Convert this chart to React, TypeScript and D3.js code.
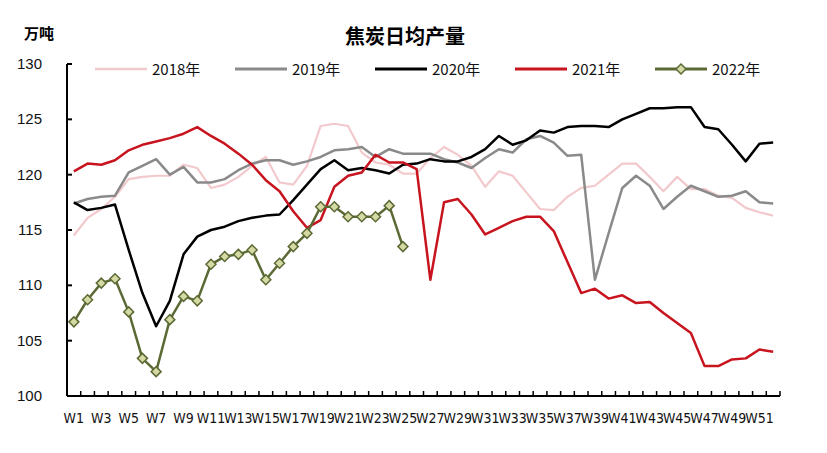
import React from "react";
import * as d3 from "d3";

const weeks = d3.range(1, 53).map((i) => `W${i}`);

const s2018 = [114.5,116.1,116.9,118.0,119.6,119.8,119.9,119.9,120.9,120.6,118.8,119.1,119.8,120.8,121.6,119.3,119.1,120.8,124.4,124.6,124.4,122.0,121.1,120.9,120.1,120.1,121.5,122.5,121.8,120.8,118.9,120.3,119.9,118.4,116.9,116.8,118.0,118.8,119.0,120.0,121.0,121.0,119.8,118.5,119.8,118.7,118.7,118.1,117.9,117.0,116.6,116.3];
const s2019 = [117.4,117.8,118.0,118.1,120.2,120.8,121.4,120.0,120.7,119.3,119.3,119.6,120.4,121.0,121.3,121.3,120.9,121.2,121.6,122.2,122.3,122.5,121.6,122.3,121.9,121.9,121.9,121.4,121.1,120.6,121.5,122.3,122.0,123.2,123.5,122.9,121.7,121.8,110.5,114.7,118.8,119.9,119.0,116.9,118.0,119.0,118.5,118.0,118.1,118.5,117.5,117.4];
const s2020 = [117.5,116.8,117.0,117.3,113.2,109.3,106.3,108.6,112.8,114.4,115.0,115.3,115.8,116.1,116.3,116.4,117.7,119.1,120.5,121.3,120.4,120.6,120.4,120.1,120.9,121.0,121.4,121.2,121.2,121.6,122.3,123.5,122.7,123.1,124.0,123.8,124.3,124.4,124.4,124.3,125.0,125.5,126.0,126.0,126.1,126.1,124.3,124.1,122.7,121.2,122.8,122.9];
const s2021 = [120.3,121.0,120.9,121.3,122.2,122.7,123.0,123.3,123.7,124.3,123.5,122.8,121.9,120.9,119.5,118.5,116.7,115.2,115.9,118.9,119.9,120.2,121.8,121.1,121.1,120.5,110.5,117.5,117.8,116.4,114.6,115.2,115.8,116.2,116.2,114.9,112.1,109.3,109.7,108.8,109.1,108.4,108.5,107.5,106.6,105.7,102.7,102.7,103.3,103.4,104.2,104.0];
const s2022 = [106.7,108.7,110.2,110.6,107.6,103.4,102.2,106.9,109.0,108.6,111.9,112.6,112.8,113.2,110.5,112.0,113.5,114.7,117.1,117.1,116.2,116.2,116.2,117.2,113.5];

const yTicks = [100, 105, 110, 115, 120, 125, 130];

const series = [
  { name: "2018年", data: s2018, color: "#f2c9cc", width: 2.2 },
  { name: "2019年", data: s2019, color: "#8a8a8a", width: 2.5 },
  { name: "2020年", data: s2020, color: "#000000", width: 2.5 },
  { name: "2021年", data: s2021, color: "#c8141e", width: 2.5 },
  { name: "2022年", data: s2022, color: "#5b6a35", width: 2.5, marker: true },
];

const W = 827;
const H = 453;
const left = 67;
const right = 780;
const top = 64;
const bottom = 396;

export default function App() {
  const x = d3.scaleBand().domain(weeks).range([left, right]);
  const y = d3.scaleLinear().domain([100, 130]).range([bottom, top]);
  const cx = (i: number) => (x(weeks[i]) as number) + x.bandwidth() / 2;
  const line = d3
    .line<number>()
    .x((_, i) => cx(i))
    .y((d) => y(d));
  const diamond = (px: number, py: number, r: number) =>
    `M${px},${py - r}L${px + r},${py}L${px},${py + r}L${px - r},${py}Z`;

  const font = "'Liberation Sans', Arial, sans-serif";

  return (
    <svg width={W} height={H} style={{ position: "absolute", left: 0, top: 0 }}>
      <rect width={W} height={H} fill="#fff" />
      <text x={405} y={44} textAnchor="middle" fontSize={20} fontWeight="bold" fontFamily="'Noto Sans CJK SC', sans-serif">
        焦炭日均产量
      </text>
      <text x={24} y={39} fontSize={15} fontWeight="bold" fontFamily="'Noto Sans CJK SC', sans-serif">
        万吨
      </text>

      {/* legend */}
      {series.map((s, i) => {
        const lx = 95 + i * 140;
        const ly = 69;
        return (
          <g key={s.name}>
            <line x1={lx} x2={lx + 52} y1={ly} y2={ly} stroke={s.color} strokeWidth={s.width + 0.5} />
            {s.marker && (
              <path d={diamond(lx + 26, ly, 5)} fill="#d5d9a3" stroke={s.color} strokeWidth={1.5} />
            )}
            <text x={lx + 57} y={ly + 6} fontSize={15} fontFamily="'Noto Sans CJK SC', sans-serif" fill="#111">
              {s.name}
            </text>
          </g>
        );
      })}

      {/* y axis */}
      <line x1={left} x2={left} y1={top} y2={bottom} stroke="#000" strokeWidth={2} />
      {yTicks.map((t) => (
        <g key={t}>
          <line x1={left} x2={left + 5} y1={y(t)} y2={y(t)} stroke="#000" strokeWidth={2} />
          <text x={42} y={y(t) + 5} textAnchor="end" fontSize={15} fontFamily={font} fill="#111">
            {t}
          </text>
        </g>
      ))}

      {/* x axis */}
      <line x1={left} x2={right} y1={bottom} y2={bottom} stroke="#000" strokeWidth={2} />
      {weeks.map((w) => (
        <line key={w} x1={(x(w) as number) + x.bandwidth()} x2={(x(w) as number) + x.bandwidth()} y1={bottom} y2={bottom - 5} stroke="#000" strokeWidth={1.5} />
      ))}
      {weeks.map((w, i) =>
        i % 2 === 0 ? (
          <text key={w} x={cx(i)} y={423} textAnchor="middle" fontSize={14} fontFamily="'DejaVu Sans Condensed', 'DejaVu Sans', sans-serif" fill="#111">
            {w}
          </text>
        ) : null
      )}

      {/* lines */}
      {series.map((s) => (
        <path key={s.name} d={line(s.data) || ""} fill="none" stroke={s.color} strokeWidth={s.width} strokeLinejoin="round" />
      ))}
      {s2022.map((v, i) => (
        <path key={i} d={diamond(cx(i), y(v), 5)} fill="#d5d9a3" stroke="#5b6a35" strokeWidth={1.5} />
      ))}
    </svg>
  );
}
